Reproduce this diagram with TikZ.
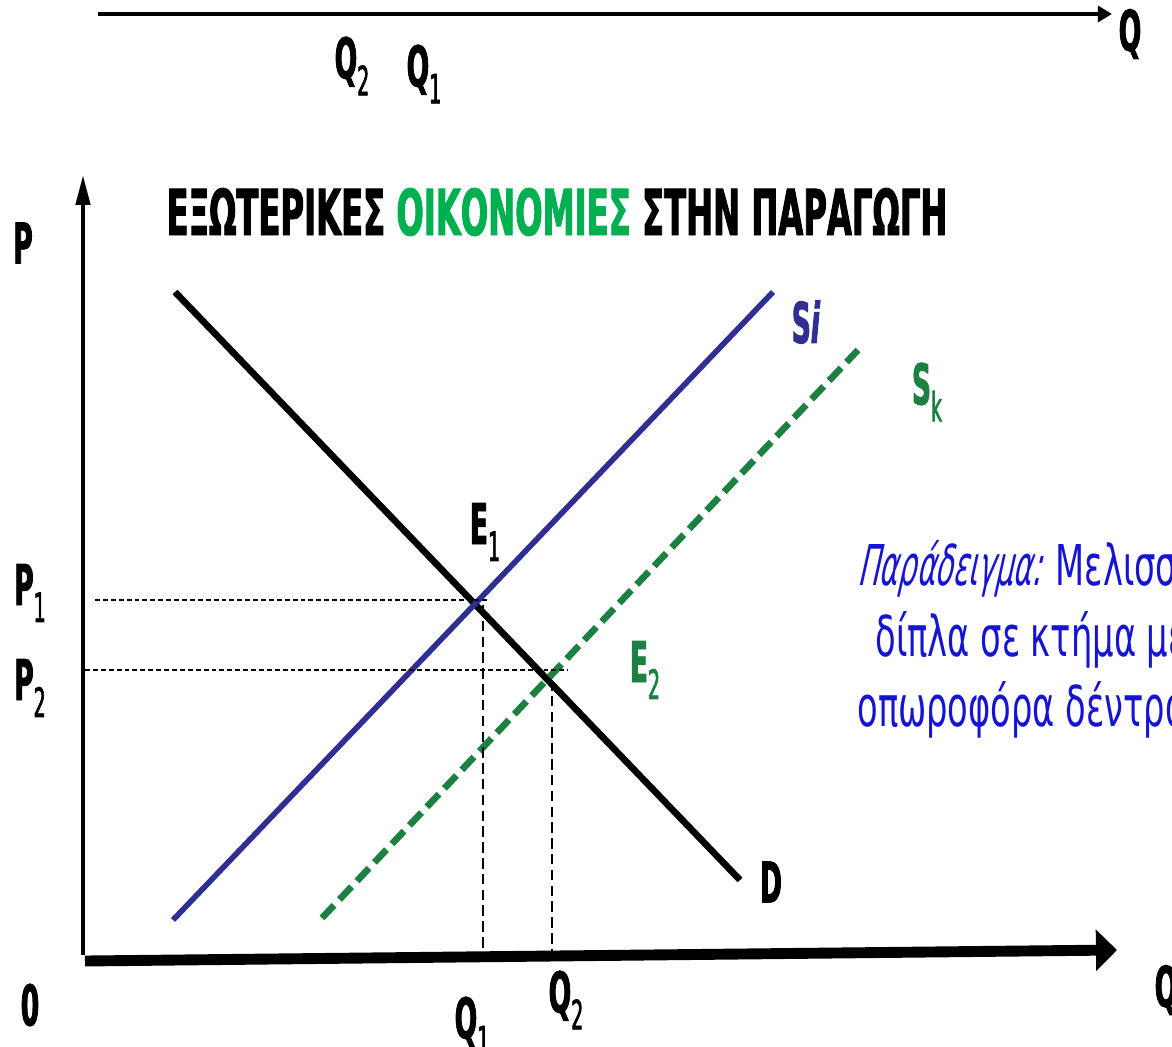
\documentclass[tikz,border=0pt]{standalone}
\usepackage{fontspec}
\setmainfont{DejaVu Sans}
\newfontfamily\narrowfont[FakeStretch=0.47, FakeBold=1.5]{DejaVu Sans}
\newfontfamily\titlefont[FakeStretch=0.51, FakeBold=1.5]{DejaVu Sans}
\newfontfamily\notefont[FakeStretch=0.6]{DejaVu Sans}
\newfontfamily\noteslant[FakeStretch=0.51, FakeSlant=0.22]{DejaVu Sans}
\usetikzlibrary{arrows.meta,positioning}
\newcommand{\lowidx}[1]{\raisebox{-0.55ex}{\fontsize{23}{23}\selectfont\mdseries #1}}

\begin{document}
\begin{tikzpicture}[x=0.02cm, y=-0.02cm,
  lbl/.style={font=\narrowfont\bfseries\fontsize{32}{32}\selectfont, inner sep=0pt},
  notetext/.style={note, font=\notefont\fontsize{32}{32}\selectfont, anchor=base west, inner sep=0pt},
  guide/.style={line width=1.4pt, dash pattern=on 2.8pt off 1.7pt},
  drop/.style={line width=0.6pt, dash pattern=on 6pt off 3pt}]
  \definecolor{navy}{HTML}{2F2F93}
  \definecolor{leaf}{HTML}{1B8040}
  \definecolor{mint}{HTML}{00B050}
  \definecolor{note}{HTML}{1414D2}
  \useasboundingbox (0,0) rectangle (1172,1047);
  \clip (0,0) rectangle (1172,1047);

  % upper axis, left over from the previous slide
  \coordinate (top0) at (98,14);
  \coordinate (top1) at (1112,14);
  \draw[line width=2.7pt, -{Triangle[length=8pt, width=9pt]}] (top0) -- (top1);
  \node[lbl] (qtop) at (1130,34) {Q};
  \node[lbl] (q2top) at (352,66) {Q\lowidx{2}};
  \node[lbl] (q1top) at (424,74) {Q\lowidx{1}};

  % axes
  \coordinate (origin) at (83,955);
  \coordinate (ytip) at (83,175);
  \coordinate (xtip) at (1117,950);
  \draw[line width=2.4pt, -{Triangle[length=17pt, width=8pt]}] (origin) -- (ytip);
  \draw[line width=6.2pt, -{Triangle[length=12pt, width=23pt]}] (85,961) -- (xtip);
  \node[lbl] (pax) at (23,243) {P};
  \node[lbl] (qax) at (1166,990) {Q};
  \node[lbl] (zero) at (30,1005) {0};

  \node[font=\titlefont\bfseries\fontsize{36}{36}\selectfont, inner sep=0pt] (title) at (557,212)
    {ΕΞΩΤΕΡΙΚΕΣ \textcolor{mint}{ΟΙΚΟΝΟΜΙΕΣ} ΣΤΗΝ ΠΑΡΑΓΩΓΗ};

  % curves
  \coordinate (d0) at (175,292);
  \coordinate (d1) at (740,880);
  \coordinate (si0) at (173,920);
  \coordinate (si1) at (773,292);
  \coordinate (sk0) at (322,918);
  \coordinate (sk1) at (858,350);
  \draw[line width=3.8pt] (d0) -- (d1);
  \draw[navy, line width=3.2pt] (si0) -- (si1);
  \draw[leaf, line width=3.8pt, dash pattern=on 10pt off 4.5pt] (sk0) -- (sk1);
  \node[lbl] (dlbl) at (771,882) {D};
  \node[lbl, navy] (silbl) at (806,322) {S\textit{i}};
  \node[lbl, leaf] (sklbl) at (927,392) {S\lowidx{k}};

  % equilibria
  \coordinate (e1) at (483,600);
  \coordinate (e2) at (552,670);
  \draw[guide] (95,600) -- (490,600);
  \draw[guide] (85,670) -- (568,670);
  \draw[drop] (483,605) -- (483,955);
  \draw[drop] (552,680) -- (552,955);
  \node[lbl] (e1lbl) at (485,532) {E\lowidx{1}};
  \node[lbl, leaf] (e2lbl) at (645,670) {E\lowidx{2}};
  \node[lbl] (p1) at (30,593) {P\lowidx{1}};
  \node[lbl] (p2) at (30,688) {P\lowidx{2}};
  \node[lbl] (q1) at (472,1026) {Q\lowidx{1}};
  \node[lbl] (q2) at (566,1000) {Q\lowidx{2}};

  % example text, running off the right edge
  \node[notetext] (note1) at (857,585) {{\noteslant Παράδειγμα:} Μελισσοκόμος};
  \node[notetext] (note2) at (875,656) {δίπλα σε κτήμα με};
  \node[notetext] (note3) at (857,726) {οπωροφόρα δέντρα};
\end{tikzpicture}
\end{document}
